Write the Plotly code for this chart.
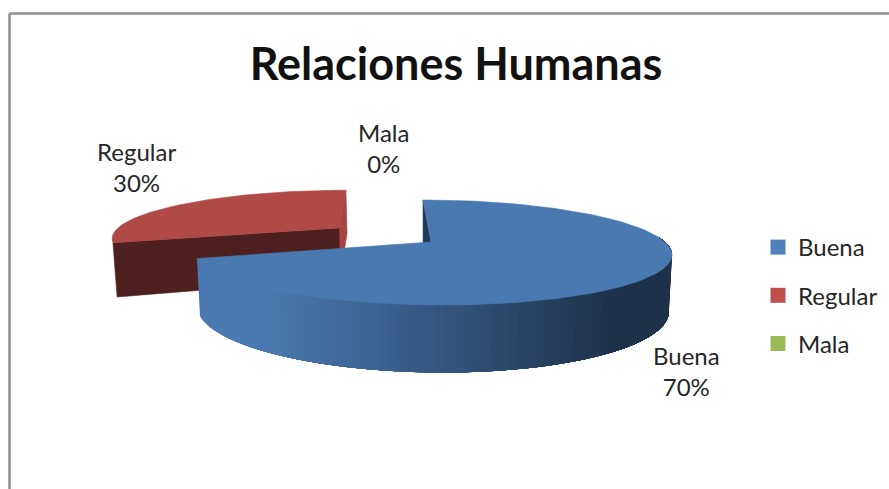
import math
import plotly.graph_objects as go

categories = ["Buena", "Regular", "Mala"]
values = [70, 30, 0]
percent_labels = ["70%", "30%", "0%"]
legend_colors = ["#4F81BD", "#C0504D", "#9BBB59"]
top_colors = ["#4A78B0", "#B04A46", "#9BBB59"]
explode = [0, 0.5, 0]

# Scene geometry of the tilted, perspective pie (in page pixels)
CX, CY, VP, A, B, K, H, SHRINK = 431, 242, 383, 234, 50.4, 0.2, 54, 0.987


def project(u, v, z=0):
    den = 1 + K * v
    x = VP + (CX - VP + A * u) / den
    y = CY - B * v / den + H * z / den
    if z:
        x = CX + (x - CX) * SHRINK
    return x, y


def mix(c1, c2, t):
    a = [int(c1[i:i + 2], 16) for i in (1, 3, 5)]
    b = [int(c2[i:i + 2], 16) for i in (1, 3, 5)]
    return "rgb(%d,%d,%d)" % tuple(round(p + (q - p) * t) for p, q in zip(a, b))


def poly(fig, pts, color, lw=0.6):
    fig.add_trace(go.Scatter(
        x=[p[0] for p in pts] + [pts[0][0]],
        y=[p[1] for p in pts] + [pts[0][1]],
        mode="lines", fill="toself", fillcolor=color,
        line=dict(color=color, width=lw),
        hoverinfo="skip", showlegend=False))


total = sum(values)
slices = []
start = 0.0
for name, val, ex, col in zip(categories, values, explode, top_colors):
    sweep = 360.0 * val / total
    mid = math.radians(start + sweep / 2)
    slices.append(dict(start=start, end=start + sweep, ox=ex * math.sin(mid),
                       oy=ex * math.cos(mid), color=col, val=val))
    start += sweep


def pt(s, deg, r=1.0, z=0):
    t = math.radians(deg)
    return project(s["ox"] + r * math.sin(t), s["oy"] + r * math.cos(t), z)


fig = go.Figure()

# Regular slice (exploded)
s = slices[1]
poly(fig, [pt(s, s["end"]), pt(s, s["end"], 0), pt(s, s["end"], 0, 1), pt(s, s["end"], 1, 1)], "#A9433F")
poly(fig, [pt(s, s["start"], 0), pt(s, s["start"]), pt(s, s["start"], 1, 1), pt(s, s["start"], 0, 1)], "#4D1F1E")
n = 60
poly(fig, [pt(s, s["start"], 0)] + [pt(s, s["start"] + (s["end"] - s["start"]) * i / n) for i in range(n + 1)], s["color"])

# Buena slice
s = slices[0]
poly(fig, [pt(s, s["start"]), pt(s, s["start"], 0), pt(s, s["start"], 0, 1), pt(s, s["start"], 1, 1)], "#1F3A57")
seg_right, seg_left, seg_n = 85.0, s["end"], 90
for i in range(seg_n):
    # each band runs from its own left edge all the way to the right end, so
    # later (darker) bands paint over earlier ones with no seams
    a0 = seg_left - (seg_left - seg_right) * i / seg_n
    xm = pt(s, a0)[0]
    t = min(1.0, max(0.0, (xm - 260) / (610 - 260)))
    m = 40
    arc = [a0 - (a0 - seg_right) * j / m for j in range(m + 1)]
    pts = [pt(s, a) for a in arc] + [pt(s, a, 1, 1) for a in reversed(arc)]
    poly(fig, pts, mix("#4A79B1", "#1E324B", t), lw=0)
n = 160
poly(fig, [pt(s, s["start"], 0)] + [pt(s, s["start"] + (s["end"] - s["start"]) * i / n) for i in range(n + 1)], s["color"])

# Legend entries
for name, col in zip(categories, legend_colors):
    fig.add_trace(go.Scatter(x=[None], y=[None], mode="markers", name=name, legendgroup=name,
                             marker=dict(symbol="square", size=15, color=col)))

FONT = "Lato"
label_pos = [(686, 371), (136, 167), (383, 148)]
annotations = []
for name, pct, (x, y) in zip(categories, percent_labels, label_pos):
    annotations.append(dict(x=x, y=y, xref="x", yref="y", showarrow=False,
                            text=f"{name}<br>{pct}", align="center",
                            font=dict(family=FONT, size=24, color="#262626")))

frame = dict(color="#8F8F8F", width=2.5)
fig.update_layout(
    width=889, height=489, margin=dict(l=0, r=0, t=0, b=0),
    paper_bgcolor="white", plot_bgcolor="white",
    xaxis=dict(range=[0, 889], visible=False, fixedrange=True),
    yaxis=dict(range=[489, 0], visible=False, fixedrange=True),
    title=dict(text="<b>Relaciones Humanas</b>", x=456 / 889, xanchor="center",
               y=1 - 64 / 489, yanchor="middle",
               font=dict(family=FONT, size=45, color="#111111")),
    annotations=annotations,
    legend=dict(x=758 / 889, y=1 - 225 / 489, xanchor="left", yanchor="top",
                font=dict(family=FONT, size=24, color="#262626"),
                tracegroupgap=14, itemwidth=30, bgcolor="rgba(0,0,0,0)"),
    shapes=[
        dict(type="line", xref="x", yref="y", x0=9.5, x1=889, y0=13.5, y1=13.5, line=frame),
        dict(type="line", xref="x", yref="y", x0=9.5, x1=9.5, y0=13.5, y1=489, line=frame),
    ],
)
fig.write_html("out.html", config={"displayModeBar": False},
               post_script="document.body.style.margin='0';document.body.style.overflow='hidden';")
